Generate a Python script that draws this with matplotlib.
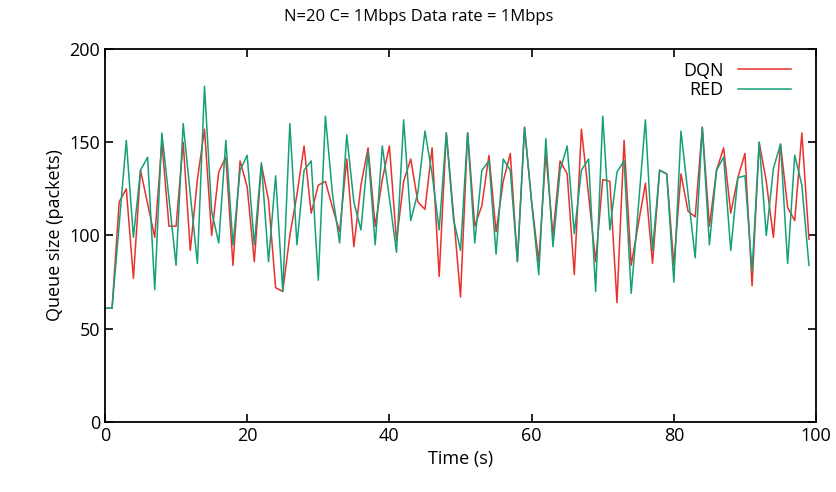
import numpy as np
import matplotlib
matplotlib.use("Agg")
import matplotlib.pyplot as plt

plt.rcParams['font.family'] = ['Open Sans', 'DejaVu Sans']

# time axis (seconds)
time_s = np.arange(100)

# queue size (packets)
dqn = [61, 61, 118, 125, 77, 135, 117, 99, 150, 105,
       105, 150, 92, 130, 157, 100, 134, 142, 84, 140,
       126, 86, 138, 119, 72, 70, 100, 122, 148, 112,
       127, 129, 115, 102, 141, 94, 127, 147, 105, 130,
       148, 97, 129, 141, 118, 114, 147, 78, 155, 112,
       67, 155, 105, 116, 143, 102, 129, 144, 86, 158,
       118, 86, 144, 100, 140, 133, 79, 157, 122, 86,
       130, 129, 64, 151, 84, 106, 128, 85, 135, 133,
       84, 133, 113, 110, 158, 105, 135, 147, 112, 131,
       144, 73, 150, 129, 99, 149, 115, 108, 155, 98]

red = [61, 61, 106, 151, 99, 135, 142, 71, 155, 120,
       84, 160, 122, 85, 180, 113, 96, 151, 95, 135,
       143, 95, 139, 86, 132, 70, 160, 95, 135, 140,
       76, 164, 122, 96, 154, 118, 103, 145, 95, 148,
       120, 91, 162, 108, 123, 156, 133, 103, 155, 109,
       92, 155, 96, 135, 140, 90, 141, 135, 86, 158,
       118, 79, 152, 94, 135, 148, 101, 135, 141, 70,
       164, 103, 134, 140, 69, 115, 162, 92, 135, 133,
       75, 156, 122, 88, 158, 95, 135, 142, 92, 131,
       132, 81, 150, 100, 136, 149, 85, 143, 127, 84]

fig = plt.figure(figsize=(8.37, 4.92), dpi=100)
ax = fig.add_axes([0.1254, 0.1423, 0.975 - 0.1254, 0.9004 - 0.1423])

ax.plot(time_s, dqn, color='#e8322c', lw=1.1, label='DQN')
ax.plot(time_s, red, color='#14a07a', lw=1.1, label='RED')

ax.set_xlim(0, 100)
ax.set_ylim(0, 200)
ax.set_xticks(range(0, 101, 20))
ax.set_yticks(range(0, 201, 50))
ax.tick_params(direction='in', top=True, right=True, labelsize=13, length=6, width=1.2)
for s in ax.spines.values():
    s.set_linewidth(1.3)

ax.set_xlabel('Time (s)', fontsize=13)
ax.set_ylabel('Queue size (packets)', fontsize=13)
fig.text(0.5, 0.965, 'N=20 C= 1Mbps Data rate = 1Mbps', ha='center', va='center', fontsize=12)

ax.legend(loc='upper right', bbox_to_anchor=(0.982, 1.0), frameon=False,
          markerfirst=False, fontsize=13, handlelength=2.9, labelspacing=0.1,
          borderaxespad=0.3)

fig.savefig('out.png', dpi=100)
